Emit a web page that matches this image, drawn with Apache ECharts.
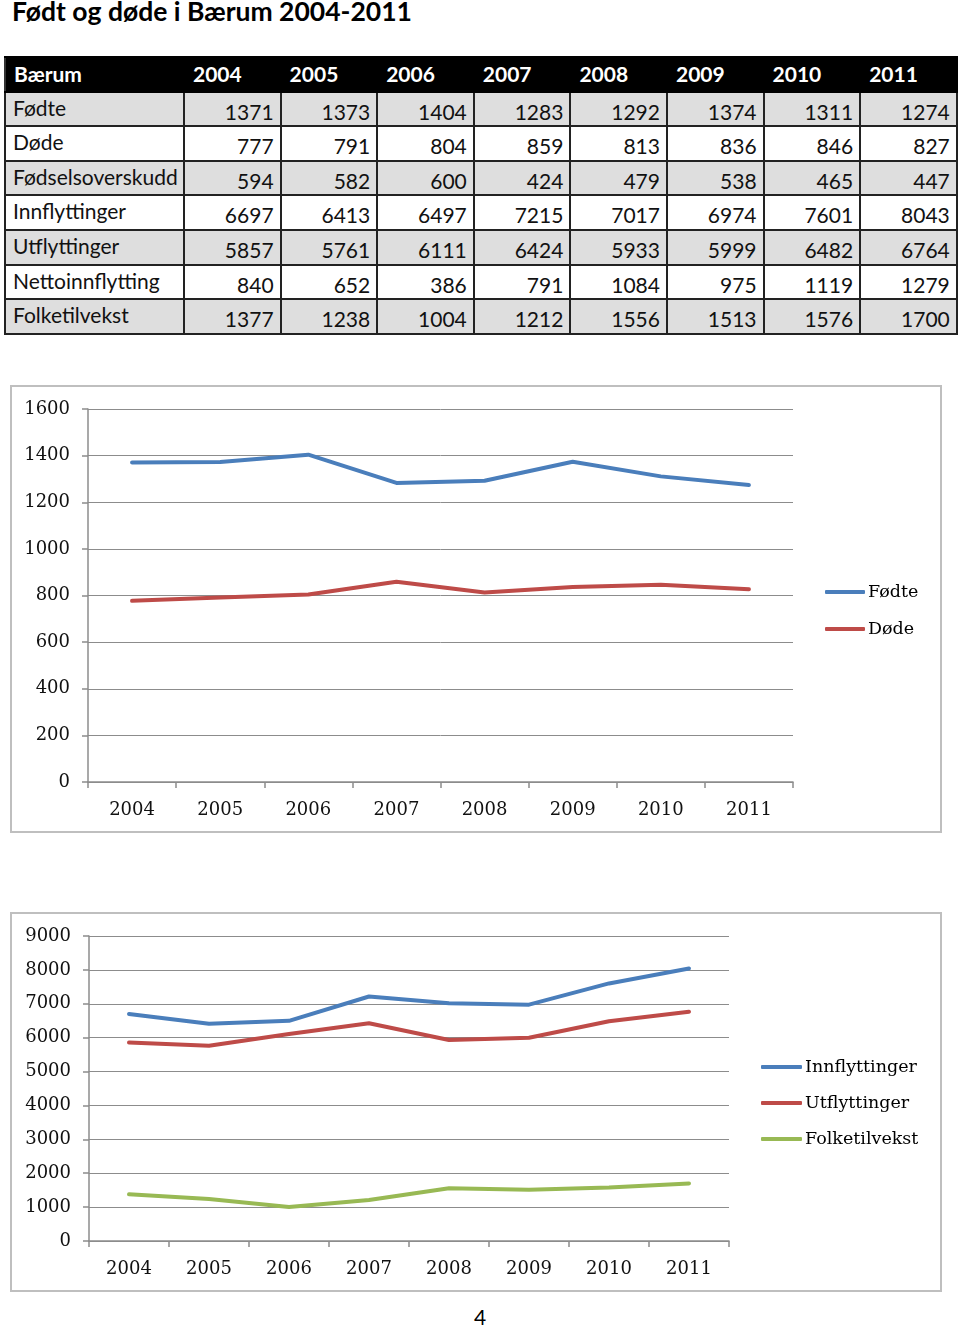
<!DOCTYPE html>
<html><head><meta charset="utf-8">
<script src="https://cdn.jsdelivr.net/npm/echarts@6/dist/echarts.min.js"></script>
<style>
html,body{margin:0;padding:0;background:#fff;width:960px;height:1329px;overflow:hidden;position:relative;font-family:Lato,'Open Sans',sans-serif;}
#title{position:absolute;left:12px;top:-5px;font-size:26.5px;font-weight:bold;color:#000;white-space:nowrap;}
#tbl{position:absolute;left:4px;top:56px;border-collapse:collapse;table-layout:fixed;width:952px;font-size:21px;color:#111;}
#tbl td{border:2px solid #222;padding:0 6px;line-height:27.6px;white-space:nowrap;overflow:hidden;}
#tbl tr.hd td{background:#000;color:#fff;font-weight:bold;border-color:#000;border-left-color:#333;text-align:left;padding-left:8px;padding-top:2px;padding-bottom:3px;}
#tbl tr.g td{background:#dedede;}
#tbl td.n{text-align:right;padding-top:5px;}
#tbl td.l{padding-left:7px;padding-bottom:3px;}
#c1{position:absolute;left:0;top:380px;width:960px;height:460px;}
#c2{position:absolute;left:0;top:900px;width:960px;height:400px;}
#pg{position:absolute;left:474px;top:1304px;font-size:21px;color:#000;}
</style></head>
<body>
<div id="title">Født og døde i Bærum 2004-2011</div>
<table id="tbl"></table>
<div id="c1"></div>
<div id="c2"></div>
<div id="pg">4</div>
<script>
const years = ['2004','2005','2006','2007','2008','2009','2010','2011'];
const rowLabels = ['Fødte','Døde','Fødselsoverskudd','Innflyttinger','Utflyttinger','Nettoinnflytting','Folketilvekst'];
const fodte = [1371,1373,1404,1283,1292,1374,1311,1274];
const dode = [777,791,804,859,813,836,846,827];
const fodselsoverskudd = [594,582,600,424,479,538,465,447];
const innflyttinger = [6697,6413,6497,7215,7017,6974,7601,8043];
const utflyttinger = [5857,5761,6111,6424,5933,5999,6482,6764];
const nettoinnflytting = [840,652,386,791,1084,975,1119,1279];
const folketilvekst = [1377,1238,1004,1212,1556,1513,1576,1700];
const tableCorner = 'Bærum';

// table
const rows = [fodte,dode,fodselsoverskudd,innflyttinger,utflyttinger,nettoinnflytting,folketilvekst];
const tbl = document.getElementById('tbl');
let html = '<colgroup><col style="width:179px">' + years.map(()=>'<col style="width:96.6px">').join('') + '</colgroup>';
html += '<tr class="hd"><td>' + tableCorner + '</td>' + years.map(y=>'<td>'+y+'</td>').join('') + '</tr>';
rows.forEach((r,i)=>{
  html += '<tr class="' + (i%2===0?'g':'w') + '"><td class="l">' + rowLabels[i] + '</td>' + r.map(v=>'<td class="n">'+v+'</td>').join('') + '</tr>';
});
tbl.innerHTML = html;

const SERIF = "'DejaVu Serif', serif";
const BLUE = '#4a7ebb', RED = '#be4b48', GREEN = '#98b954';
function lineSeries(name, data, color){
  return {name, type:'line', data, symbol:'none', smooth:false,
    lineStyle:{width:4, color, cap:'round', join:'round'}, itemStyle:{color}, silent:true};
}
function makeOpt(cfg){
  return {
    animation:false,
    graphic:[{type:'rect', shape:{x:cfg.box[0], y:cfg.box[1], width:cfg.box[2], height:cfg.box[3]},
      style:{fill:'none', stroke:'#bfbfbf', lineWidth:2}, silent:true}],
    grid:{left:cfg.grid[0], top:cfg.grid[1], width:cfg.grid[2], height:cfg.grid[3], containLabel:false},
    legend:{orient:'vertical', left:cfg.legend[0], top:cfg.legend[1], itemGap:cfg.legend[2], padding:0,
      icon:'roundRect', itemWidth:cfg.legend[3], itemHeight:4, selectedMode:false,
      textStyle:{fontFamily:SERIF, fontSize:17.5, color:'#000', lineHeight:20, padding:[0,0,0,-2]}},
    xAxis:{type:'category', data:years, boundaryGap:true,
      axisLine:{lineStyle:{color:'#8c8c8c', width:1.5}},
      axisTick:{show:true, length:6, inside:false, lineStyle:{color:'#8c8c8c', width:1.5}},
      axisLabel:{fontFamily:SERIF, fontSize:18, color:'#111', margin:19}},
    yAxis:{type:'value', min:0, max:cfg.max, interval:cfg.interval,
      axisLine:{show:true, lineStyle:{color:'#8c8c8c', width:1.5}},
      axisTick:{show:true, length:6, lineStyle:{color:'#8c8c8c', width:1.5}},
      splitLine:{lineStyle:{color:'#8c8c8c', width:1}},
      axisLabel:{fontFamily:SERIF, fontSize:18, color:'#111', margin:18, padding:[3,0,0,0], formatter:v=>String(v)}},
    series:cfg.series
  };
}
const c1 = echarts.init(document.getElementById('c1'), null, {renderer:'canvas'});
c1.setOption(makeOpt({box:[11,6,930,446], grid:[88,29,705,373], max:1600, interval:200,
  legend:[825,202,17,40],
  series:[lineSeries('Fødte',fodte,BLUE), lineSeries('Døde',dode,RED)]}));
const c2 = echarts.init(document.getElementById('c2'), null, {renderer:'canvas'});
c2.setOption(makeOpt({box:[11,13,930,378], grid:[89,36,640,305], max:9000, interval:1000,
  legend:[761,157,16,41],
  series:[lineSeries('Innflyttinger',innflyttinger,BLUE), lineSeries('Utflyttinger',utflyttinger,RED), lineSeries('Folketilvekst',folketilvekst,GREEN)]}));
</script>
</body></html>
